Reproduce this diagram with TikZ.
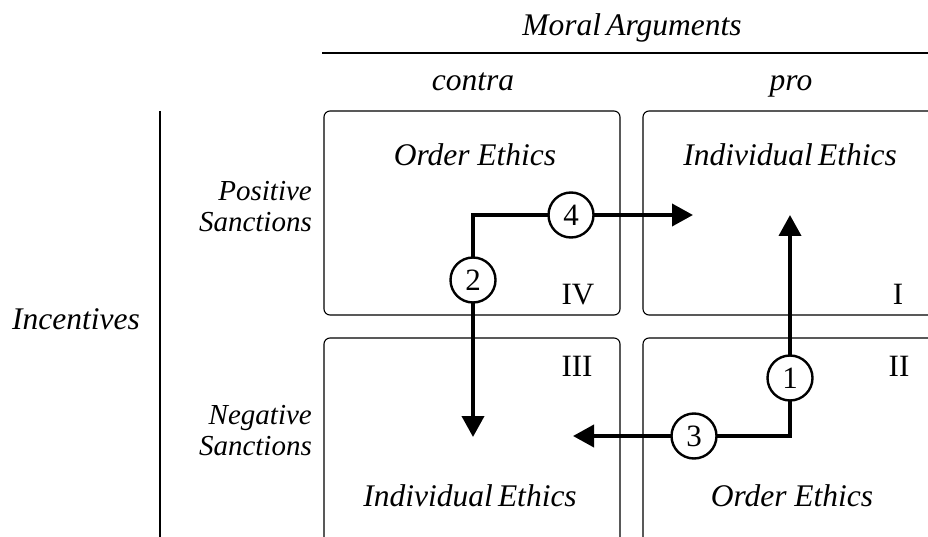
\documentclass[tikz,border=0pt]{standalone}
\usepackage{fontspec}
\setmainfont{Liberation Serif}
\usetikzlibrary{arrows.meta}
\tikzset{
  quad/.style={draw, line width=1.1pt, rounded corners=6pt, inner sep=0pt},
  big/.style={font=\fontsize{31.5}{34}\selectfont\itshape, inner sep=0pt},
  side/.style={font=\fontsize{29}{31}\selectfont\itshape, inner sep=0pt, align=right},
  roman/.style={font=\fontsize{31}{34}\selectfont, inner sep=0pt},
  num/.style={circle, draw, line width=2.4pt, fill=white, minimum size=45pt, inner sep=0pt, font=\fontsize{31}{34}\selectfont},
  arr/.style={line width=3.8pt, -{Triangle[length=21pt,width=22pt]}},
  rule/.style={line width=1.3pt}
}
\begin{document}
\begin{tikzpicture}[x=1pt,y=-1pt]
\useasboundingbox (0,0) rectangle (928,537);
\clip (0,0) rectangle (928,537);
% headers
\node[big, anchor=base] (moral) at (632,36) {Moral\,Arguments};
\coordinate (hl) at (322,53);
\coordinate (hr) at (935,53);
\draw[rule] (hl) -- (hr);
\node[big, anchor=base] (contra) at (473,91) {contra};
\node[big, anchor=base] (pro) at (791,91) {pro};
% left side
\node[big, anchor=base] (inc) at (76,329) {Incentives};
\coordinate (vt) at (160,111);
\coordinate (vb) at (160,545);
\draw[rule] (vt) -- (vb);
\node[side, anchor=east] (pos) at (312,207) {Positive\\Sanctions};
\node[side, anchor=east] (neg) at (312,431) {Negative\\Sanctions};
% boxes
\node[quad, minimum width=296pt, minimum height=204pt] (IV) at (472,213) {};
\node[quad, minimum width=304pt, minimum height=204pt] (I) at (795,213) {};
\node[quad, minimum width=296pt, minimum height=224pt] (III) at (472,450) {};
\node[quad, minimum width=304pt, minimum height=224pt] (II) at (795,450) {};
% box texts
\node[big, anchor=base] (t4) at (475,166) {Order Ethics};
\node[big, anchor=base] (t1) at (790,166) {Individual\,Ethics};
\node[big, anchor=base] (t3) at (470,506) {Individual\,Ethics};
\node[big, anchor=base] (t2) at (792,506) {Order Ethics};
\node[roman, anchor=base] (rIV) at (578,304) {IV};
\node[roman, anchor=base] (rI) at (898,304) {I};
\node[roman, anchor=base] (rIII) at (577,376) {III};
\node[roman, anchor=base] (rII) at (899,376) {II};
% arrows
\coordinate (ca) at (473,215);
\coordinate (tip4) at (693,215);
\coordinate (tip2) at (473,437);
\coordinate (cb) at (790,436);
\coordinate (tip1) at (790,215);
\coordinate (tip3) at (573,436);
\draw[arr] ([xshift=-1.9pt]ca) -- (tip4);
\draw[arr] ([yshift=-1.9pt]ca) -- (tip2);
\draw[arr] ([yshift=1.9pt]cb) -- (tip1);
\draw[arr] ([xshift=1.9pt]cb) -- (tip3);
\node[num] (n4) at (571,215) {4};
\node[num] (n2) at (473,280) {2};
\node[num] (n1) at (790,378) {1};
\node[num] (n3) at (694,436) {3};
\end{tikzpicture}
\end{document}
